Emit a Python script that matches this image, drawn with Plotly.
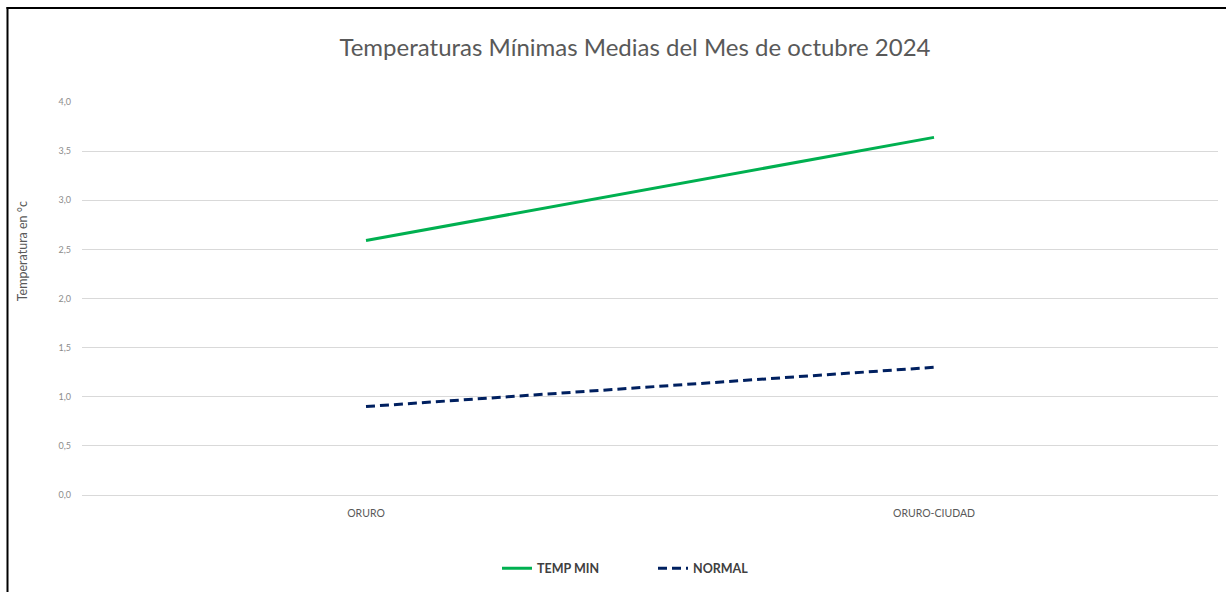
import plotly.graph_objects as go

categories = ["ORURO", "ORURO-CIUDAD"]
temp_min = [2.59, 3.64]
normal = [0.90, 1.30]
y_ticks = [0, 0.5, 1, 1.5, 2, 2.5, 3, 3.5, 4]
y_tick_labels = ["0,0", "0,5", "1,0", "1,5", "2,0", "2,5", "3,0", "3,5", "4,0"]

W, H = 1226, 592
L, R, T, B = 82, 8, 102, 95
pw, ph = W - L - R, H - T - B

def px_x(v):
    return (v - L) / pw

def px_y(v):
    return (H - B - v) / ph

fig = go.Figure()
fig.add_trace(go.Scatter(x=categories, y=temp_min, mode="lines", name="TEMP MIN",
                         line=dict(color="#00B050", width=3)))
fig.add_trace(go.Scatter(x=categories, y=normal, mode="lines", name="NORMAL",
                         line=dict(color="#002060", width=3, dash="9px,5px")))

fig.update_layout(
    width=W, height=H,
    margin=dict(l=L, r=R, t=T, b=B),
    paper_bgcolor="white", plot_bgcolor="white",
    title=dict(text="Temperaturas Mínimas Medias del Mes de octubre 2024",
               x=635 / W, xanchor="center", y=1 - 48 / H, yanchor="middle",
               font=dict(family="Lato, Open Sans, sans-serif", size=24, color="#595959")),
    xaxis=dict(type="category", range=[-0.5, 1.5], showgrid=False, showline=False,
               ticks="", ticklabelstandoff=10, automargin=False,
               tickfont=dict(family="Lato, sans-serif", size=10.5, color="#595959")),
    yaxis=dict(range=[0, 4], tickvals=y_ticks, ticktext=y_tick_labels,
               showgrid=True, gridcolor="#D9D9D9", gridwidth=1, zeroline=True,
               zerolinecolor="#D9D9D9", zerolinewidth=1, ticks="",
               ticklabelstandoff=10, automargin=False,
               tickfont=dict(family="Lato, sans-serif", size=9, color="#8C8C8C")),
    legend=dict(orientation="h", x=px_x(497), xanchor="left", y=px_y(556), yanchor="top",
                font=dict(family="Lato, sans-serif", size=12.5, color="#404040", weight="bold"),
                entrywidthmode="pixels", entrywidth=111),
    showlegend=True,
    hovermode=False,
)

fig.add_annotation(text="Temperatura en °c", xref="paper", yref="paper",
                   x=px_x(22), y=px_y(252), xanchor="center", yanchor="middle",
                   textangle=-90, showarrow=False,
                   font=dict(family="Lato, sans-serif", size=12.5, color="#595959"))

fig.add_shape(type="line", xref="paper", yref="paper",
              x0=px_x(7.5), x1=px_x(7.5), y0=px_y(6.5), y1=px_y(600),
              line=dict(color="black", width=2))
fig.add_shape(type="line", xref="paper", yref="paper",
              x0=px_x(6.5), x1=px_x(1230), y0=px_y(7.5), y1=px_y(7.5),
              line=dict(color="black", width=2))

fig.write_html("out.html", config={"displayModeBar": False},
               post_script="document.body.style.margin='0';")
